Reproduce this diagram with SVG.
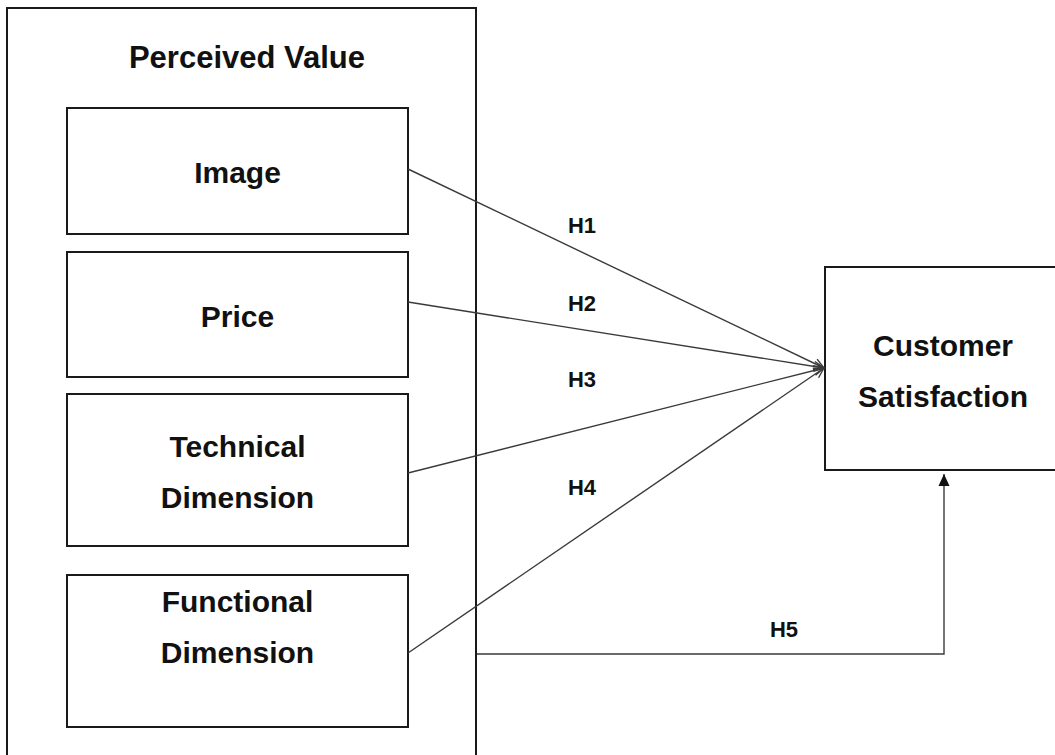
<svg xmlns="http://www.w3.org/2000/svg" width="1055" height="755" viewBox="0 0 1055 755">
<style>
.box{fill:none;stroke:#1a1a1a;stroke-width:2}
.t{font-family:"Liberation Sans",Arial,sans-serif;font-weight:bold;fill:#111;text-anchor:middle}
.big{font-size:30px}
.title{font-size:31px}
.lab{font-size:22px}
.con{fill:none;stroke:#3a3a3a;stroke-width:1.4}
</style>
<defs>
<marker id="open" viewBox="0 0 12 12" refX="11" refY="6" markerWidth="12" markerHeight="12" markerUnits="userSpaceOnUse" orient="auto">
<path d="M1,1 L11,6 L1,11" fill="none" stroke="#3a3a3a" stroke-width="1.4"/>
</marker>
<marker id="fill" viewBox="0 0 12 12" refX="12" refY="6" markerWidth="12" markerHeight="12" markerUnits="userSpaceOnUse" orient="auto">
<path d="M0,0.5 L12,6 L0,11.5 Z" fill="#111"/>
</marker>
</defs>
<rect width="1055" height="755" fill="#fff"/>
<g id="perceived-value">
<rect class="box" x="7" y="8" width="469" height="760"/>
<text class="t title" x="247" y="68">Perceived Value</text>
</g>
<g id="image">
<rect class="box" x="67" y="108" width="341" height="126"/>
<text class="t big" x="237.5" y="183">Image</text>
</g>
<g id="price">
<rect class="box" x="67" y="252" width="341" height="125"/>
<text class="t big" x="237.5" y="327">Price</text>
</g>
<g id="technical">
<rect class="box" x="67" y="394" width="341" height="152"/>
<text class="t big" x="237.5" y="457">Technical</text>
<text class="t big" x="237.5" y="508">Dimension</text>
</g>
<g id="functional">
<rect class="box" x="67" y="575" width="341" height="152"/>
<text class="t big" x="237.5" y="612">Functional</text>
<text class="t big" x="237.5" y="663">Dimension</text>
</g>
<g id="customer-satisfaction">
<rect class="box" x="825" y="267" width="240" height="203"/>
<text class="t big" x="943" y="356">Customer</text>
<text class="t big" x="943" y="407">Satisfaction</text>
</g>
<g id="connectors">
<line class="con" x1="408" y1="169" x2="824" y2="368" marker-end="url(#open)"/>
<line class="con" x1="408" y1="302" x2="824" y2="368" marker-end="url(#open)"/>
<line class="con" x1="408" y1="473" x2="824" y2="368" marker-end="url(#open)"/>
<line class="con" x1="408" y1="653" x2="824" y2="368" marker-end="url(#open)"/>
<path class="con" d="M477,654 H944 V474" marker-end="url(#fill)"/>
<text class="t lab" x="582" y="233">H1</text>
<text class="t lab" x="582" y="311">H2</text>
<text class="t lab" x="582" y="387">H3</text>
<text class="t lab" x="582" y="495">H4</text>
<text class="t lab" x="784" y="637">H5</text>
</g>
</svg>
